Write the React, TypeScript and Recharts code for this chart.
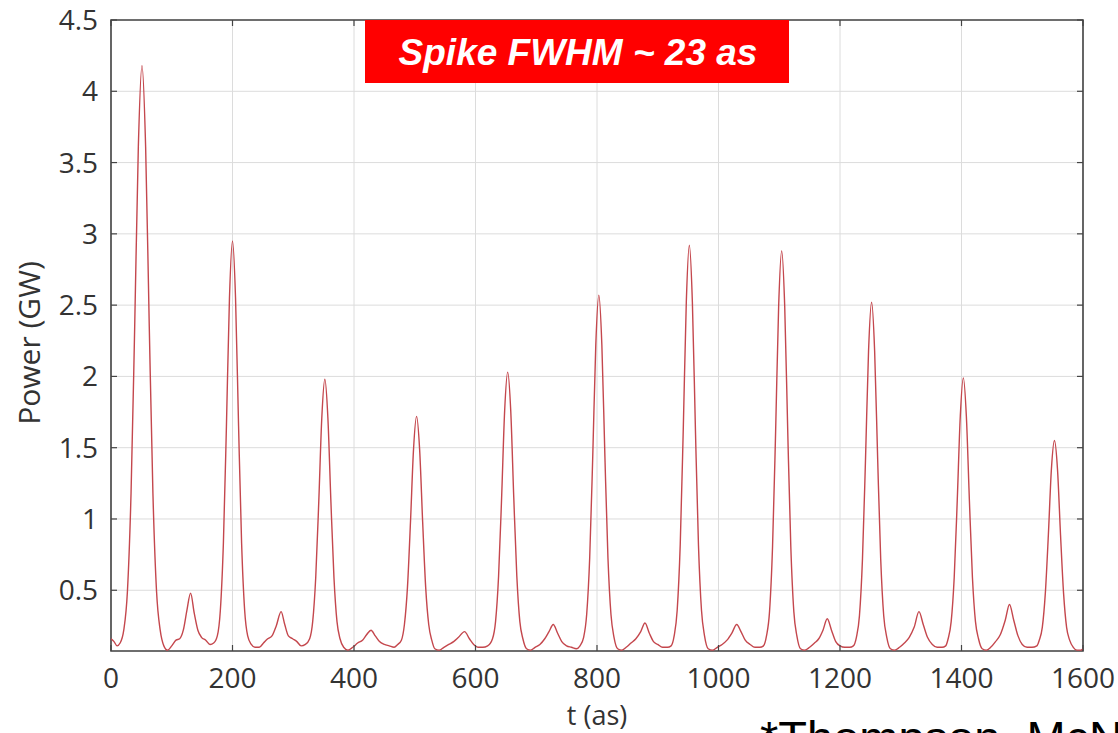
import React from "react"
import { LineChart, Line, XAxis, YAxis, CartesianGrid, ReferenceArea } from "recharts"

// time axis (as) and power (GW), one line per stretch
const timeAs = [
  0, 5, 10, 15, 21, 27, 33, 39, 45, 51, 57, 63, 69, 75, 81,
  87, 93, 100, 107, 113, 119, 125, 131, 137, 143, 149, 156, 163, 169,
  175, 180, 185, 190, 195, 200, 205, 210, 215, 220, 225,
  231, 237, 244, 251, 258, 265, 272, 280, 286, 292, 299, 306, 313, 320,
  327, 332, 337, 342, 347, 352, 357, 362, 367, 372, 377,
  383, 390, 398, 406, 414, 421, 428, 435, 442, 450, 458, 466, 472,
  478, 483, 488, 493, 498, 503, 508, 513, 518, 523, 528,
  533, 540, 548, 556, 564, 572, 582, 590, 597, 604, 612, 620,
  628, 633, 638, 643, 648, 653, 658, 663, 668, 673, 678,
  684, 691, 698, 706, 714, 721, 728, 735, 742, 750, 758, 766, 772,
  778, 783, 788, 793, 798, 803, 808, 813, 818, 823, 828,
  834, 841, 848, 856, 864, 872, 879, 886, 893, 900, 908, 916, 922,
  927, 932, 937, 942, 947, 952, 957, 962, 967, 972, 977,
  983, 990, 998, 1006, 1014, 1022, 1030, 1037, 1044, 1052, 1060, 1068, 1074,
  1079, 1084, 1089, 1094, 1099, 1104, 1109, 1114, 1119, 1124, 1129,
  1135, 1142, 1150, 1158, 1165, 1172, 1179, 1186, 1193, 1200, 1208, 1216, 1222,
  1227, 1232, 1237, 1242, 1247, 1252, 1257, 1262, 1267, 1272, 1277,
  1283, 1290, 1298, 1306, 1314, 1322, 1330, 1337, 1344, 1352, 1360, 1368, 1374,
  1378, 1383, 1388, 1393, 1398, 1403, 1408, 1413, 1418, 1423, 1428,
  1434, 1441, 1448, 1456, 1464, 1472, 1479, 1486, 1493, 1500, 1508, 1516, 1524,
  1528, 1533, 1538, 1543, 1548, 1553, 1558, 1563, 1568, 1573, 1578,
  1584, 1590, 1596, 1600,
]

const powerGW = [
  0.16, 0.14, 0.11, 0.13, 0.22, 0.49, 1.18, 2.35, 3.61, 4.18, 3.61, 2.35, 1.18, 0.49, 0.22,
  0.11, 0.08, 0.11, 0.15, 0.16, 0.22, 0.36, 0.48, 0.34, 0.22, 0.17, 0.15, 0.12, 0.13,
  0.18, 0.36, 0.83, 1.65, 2.55, 2.95, 2.55, 1.65, 0.83, 0.36, 0.18,
  0.12, 0.1, 0.1, 0.13, 0.16, 0.18, 0.25, 0.35, 0.26, 0.18, 0.16, 0.14, 0.11, 0.12,
  0.16, 0.28, 0.59, 1.12, 1.71, 1.98, 1.71, 1.12, 0.59, 0.28, 0.16,
  0.1, 0.08, 0.1, 0.13, 0.15, 0.19, 0.22, 0.18, 0.14, 0.12, 0.11, 0.1, 0.12,
  0.15, 0.26, 0.52, 0.98, 1.49, 1.72, 1.49, 0.98, 0.52, 0.26, 0.15,
  0.09, 0.08, 0.1, 0.12, 0.14, 0.17, 0.21, 0.16, 0.12, 0.1, 0.1, 0.11,
  0.16, 0.28, 0.6, 1.15, 1.76, 2.03, 1.76, 1.15, 0.6, 0.28, 0.16,
  0.09, 0.08, 0.1, 0.12, 0.16, 0.21, 0.26, 0.2, 0.14, 0.11, 0.1, 0.09, 0.11,
  0.17, 0.33, 0.73, 1.44, 2.22, 2.57, 2.22, 1.44, 0.73, 0.33, 0.17,
  0.09, 0.08, 0.1, 0.13, 0.16, 0.21, 0.27, 0.2, 0.14, 0.12, 0.1, 0.1, 0.11,
  0.18, 0.36, 0.82, 1.63, 2.52, 2.92, 2.52, 1.63, 0.82, 0.36, 0.18,
  0.09, 0.08, 0.1, 0.12, 0.15, 0.2, 0.26, 0.21, 0.15, 0.12, 0.1, 0.1, 0.11,
  0.18, 0.35, 0.81, 1.61, 2.49, 2.88, 2.49, 1.61, 0.81, 0.35, 0.18,
  0.09, 0.08, 0.1, 0.13, 0.16, 0.22, 0.3, 0.22, 0.14, 0.11, 0.1, 0.1, 0.11,
  0.17, 0.32, 0.72, 1.42, 2.18, 2.52, 2.18, 1.42, 0.72, 0.32, 0.17,
  0.09, 0.08, 0.1, 0.13, 0.17, 0.24, 0.35, 0.26, 0.17, 0.12, 0.1, 0.1, 0.11,
  0.16, 0.28, 0.59, 1.13, 1.72, 1.99, 1.72, 1.13, 0.59, 0.28, 0.16,
  0.09, 0.08, 0.1, 0.14, 0.19, 0.29, 0.4, 0.29, 0.18, 0.12, 0.1, 0.1, 0.11,
  0.15, 0.24, 0.48, 0.89, 1.35, 1.55, 1.35, 0.89, 0.48, 0.24, 0.15,
  0.1, 0.08, 0.08, 0.09,
]

const xTicks = [0, 200, 400, 600, 800, 1000, 1200, 1400, 1600]
const yTicks = [0.5, 1, 1.5, 2, 2.5, 3, 3.5, 4, 4.5]

const data = timeAs.map((t, i) => ({ t, p: powerGW[i] }))

const W = 1118
const H = 733
const PLOT_L = 111
const PLOT_R = 1083
const PLOT_T = 20
const PLOT_B = 651
const Y_MIN = 0.074

const tickFont = { fontFamily: "'Open Sans', sans-serif", fontSize: 28, fill: "#333" }

function YTick({ y, payload }: any) {
  return (
    <g>
      <text x={PLOT_L - 13} y={y} dy={10} textAnchor="end" {...tickFont}>
        {payload.value}
      </text>
      <line x1={PLOT_L} x2={PLOT_L + 6} y1={y} y2={y} stroke="#444" strokeWidth={1.2} />
      <line x1={PLOT_R - 6} x2={PLOT_R} y1={y} y2={y} stroke="#444" strokeWidth={1.2} />
    </g>
  )
}

function XTick({ x, payload }: any) {
  return (
    <g>
      <text x={x} y={PLOT_B + 37} textAnchor="middle" {...tickFont}>
        {payload.value}
      </text>
      <line x1={x} x2={x} y1={PLOT_B} y2={PLOT_B - 6} stroke="#444" strokeWidth={1.2} />
      <line x1={x} x2={x} y1={PLOT_T} y2={PLOT_T + 6} stroke="#444" strokeWidth={1.2} />
    </g>
  )
}

export default function App() {
  return (
    <div style={{ position: "absolute", left: 0, top: 0, width: W, height: H, overflow: "hidden", background: "#fff" }}>
      <LineChart
        width={W}
        height={H}
        data={data}
        margin={{ top: PLOT_T, right: W - PLOT_R, left: 11, bottom: H - PLOT_B - 50 }}
      >
        <CartesianGrid stroke="#dcdcdc" strokeWidth={1} />
        <XAxis
          type="number"
          dataKey="t"
          domain={[0, 1600]}
          ticks={xTicks}
          allowDataOverflow
          height={50}
          axisLine={false}
          tickLine={false}
          tickSize={0}
          tick={<XTick />}
          interval={0}
        />
        <YAxis
          type="number"
          domain={[Y_MIN, 4.5]}
          ticks={yTicks}
          allowDataOverflow
          width={100}
          axisLine={false}
          tickLine={false}
          tickSize={0}
          tick={<YTick />}
          interval={0}
        />
        <Line
          type="monotone"
          dataKey="p"
          stroke="#c4474d"
          strokeWidth={1.4}
          dot={false}
          isAnimationActive={false}
        />
        <ReferenceArea x1={0} x2={1600} y1={Y_MIN} y2={4.5} fill="none" stroke="#444" strokeWidth={1.6} />
      </LineChart>

      <svg width={W} height={H} style={{ position: "absolute", left: 0, top: 0, pointerEvents: "none" }}>
        <text
          x={28}
          y={343}
          transform="rotate(-90 28 343)"
          textAnchor="middle"
          dominantBaseline="central"
          fontFamily="'Open Sans', sans-serif"
          fontSize={30}
          fill="#333"
        >
          Power (GW)
        </text>
        <text x={597} y={725} textAnchor="middle" fontFamily="'Open Sans', sans-serif" fontSize={27} fill="#333">
          t (as)
        </text>
        <rect x={365} y={20} width={424} height={63} fill="#ff0000" />
        <text
          x={578}
          y={65}
          textAnchor="middle"
          fontFamily="'Liberation Sans', Arial, sans-serif"
          fontWeight="bold"
          fontStyle="italic"
          fontSize={37}
          fill="#fff"
        >
          Spike FWHM ~ 23 as
        </text>
        <text x={760} y={754} fontFamily="'Liberation Sans', Arial, sans-serif" fontSize={47} fill="#000">
          *Thompson, McNeil
        </text>
      </svg>
    </div>
  )
}
